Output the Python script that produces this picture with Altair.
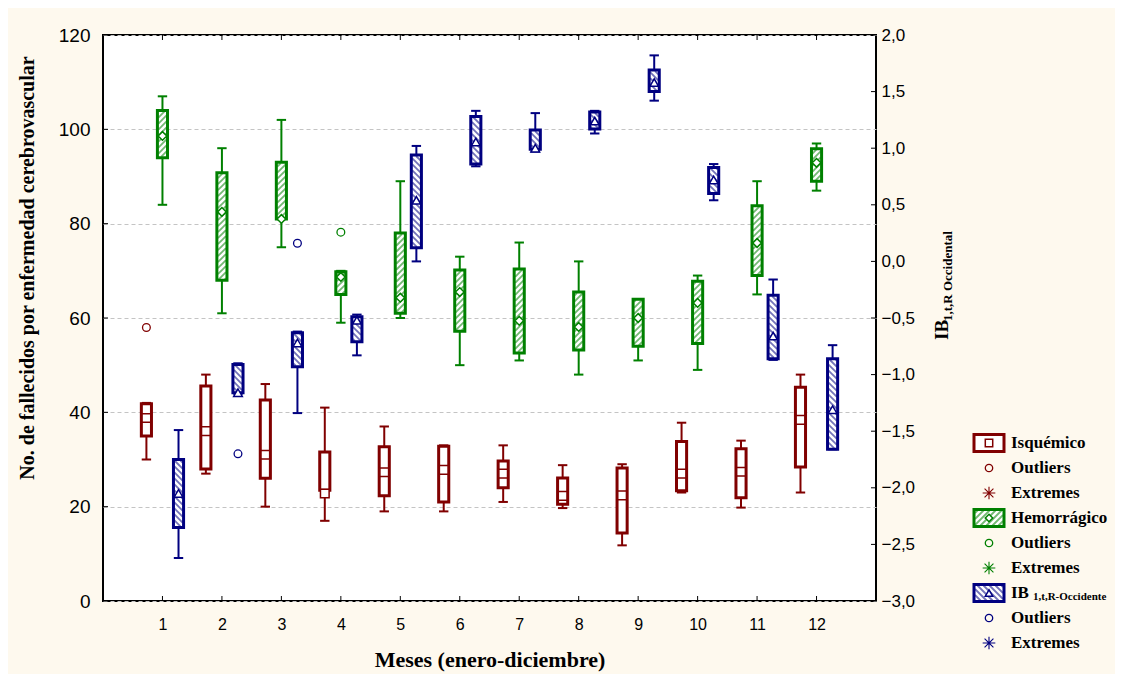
import altair as alt
import pandas as pd
import numpy as np

# ---------------- data ----------------
months = list(range(1, 13))

# Isquémico (left axis): whisker low, box low, marker, box high, whisker high
isq_wlo = [30, 27, 20, 17, 19, 19, 21, 19.7, 11.8, 23, 19.8, 23]
isq_q1 = [35, 28, 26, 23.5, 22.3, 21, 24, 20.5, 14.4, 23.4, 21.9, 28.4]
isq_mid = [38.8, 36, 31, 22.8, 27.3, 27.8, 27, 22.3, 22.4, 27, 27.4, 38.4]
isq_q3 = [41.8, 45.6, 42.6, 31.6, 32.7, 32.8, 29.7, 26.1, 28.2, 33.8, 32.3, 45.3]
isq_whi = [42, 48, 46, 41, 37, 33, 33, 28.8, 29, 37.8, 34, 48]

# Hemorrágico (left axis)
hem_wlo = [84, 61, 75, 59, 60, 50, 51, 48, 51, 49, 65, 87]
hem_q1 = [94, 68, 81, 65, 61, 57.2, 52.6, 53.2, 54, 54.6, 69, 89]
hem_mid = [98.6, 82.5, 81, 68.7, 64.3, 65.5, 59.4, 58.1, 60, 63.2, 75.9, 92.9]
hem_q3 = [104, 90.8, 93, 69.8, 78, 70.2, 70.4, 65.5, 64, 67.8, 83.8, 95.9]
hem_whi = [107, 96, 102, 70, 89, 73, 76, 72, 64, 69, 89, 97]

# IB 1,t,R-Occidente (right axis)
ib_wlo = [-2.62, -1.17, -1.34, -0.83, 0.0, 0.84, 0.97, 1.13, 1.42, 0.54, -0.87, -1.66]
ib_q1 = [-2.35, -1.16, -0.93, -0.71, 0.12, 0.86, 0.99, 1.17, 1.50, 0.60, -0.86, -1.66]
ib_mid = [-2.05, -1.16, -0.72, -0.52, 0.54, 1.055, 1.0, 1.24, 1.58, 0.72, -0.66, -1.31]
ib_q3 = [-1.75, -0.91, -0.63, -0.49, 0.94, 1.28, 1.16, 1.32, 1.69, 0.83, -0.30, -0.86]
ib_whi = [-1.49, -0.90, -0.62, -0.47, 1.02, 1.33, 1.31, 1.33, 1.82, 0.86, -0.16, -0.74]

# outliers
isq_out_month = [1]
isq_out_val = [58]
hem_out_month = [4]
hem_out_val = [78.2]
ib_out_month = [2, 3]
ib_out_val = [-1.70, 0.16]

left_ticks = [0, 20, 40, 60, 80, 100, 120]
right_ticks = [-3.0, -2.5, -2.0, -1.5, -1.0, -0.5, 0.0, 0.5, 1.0, 1.5, 2.0]

legend_labels = ["Isquémico", "Outliers", "Extremes",
                 "Hemorrágico", "Outliers", "Extremes",
                 "IB", "Outliers", "Extremes"]
legend_sub = "1,t,R-Occidente"

x_title = "Meses (enero-diciembre)"
y_title = "No. de fallecidos por enfermedad cerebrovascular"
r_title_main = "IB"
r_title_sub = "1,t,R Occidental"

# ---------------- layout / style ----------------
W, H = 773, 566
PAD = {"left": 95, "top": 27, "right": 239, "bottom": 73}
BG = "#FEF9EE"
RED, GREEN, BLUE = "#800000", "#008000", "#000080"
X_DOM = [0, 13]
YL_DOM = [0, 120]
YR_DOM = [-3, 2]
HW = 0.085      # half box width (months)
CAP = 0.079     # half cap width (months)
OFF = {"isq": -0.27, "hem": 0.0, "ib": 0.27}
SX = W / (X_DOM[1] - X_DOM[0])
SYL = H / (YL_DOM[1] - YL_DOM[0])
SYR = H / (YR_DOM[1] - YR_DOM[0])
HSTEP = 6.0

XS = alt.Scale(domain=X_DOM, nice=False, zero=False)
YLS = alt.Scale(domain=YL_DOM, nice=False, zero=False)
YRS = alt.Scale(domain=YR_DOM, nice=False, zero=False)

XAXIS = alt.Axis(values=months, tickSize=0, labelPadding=15, labelFontSize=16,
                 labelFont="Liberation Sans", labelColor="black", domain=False,
                 grid=False, title=None)
LAXIS = alt.Axis(values=left_ticks, tickSize=0, labelPadding=13, labelFontSize=19,
                 labelFont="Liberation Sans", labelColor="black", domain=False,
                 grid=True, gridDash=[4, 3], gridColor="#c4c4c4", gridWidth=1,
                 title=None)
RAXIS = alt.Axis(values=right_ticks, orient="right", tickSize=0, labelPadding=5,
                 labelFontSize=17, labelFont="Liberation Sans", labelColor="black",
                 domain=False, grid=False, title=None,
                 labelExpr="replace(format(datum.value, '.1f'), '.', ',')")


def hatch(xl, xr, yt, yb, direction, inset=1.0):
    """diagonal hatch segments inside a pixel rectangle (y down)"""
    xl, xr, yt, yb = xl + inset, xr - inset, yt + inset, yb - inset
    segs = []
    if xr <= xl or yb <= yt:
        return segs
    if direction == "up":  # '///'  x + y = k
        kmin, kmax = xl + yt, xr + yb
        k = np.ceil(kmin / HSTEP) * HSTEP
        while k < kmax:
            x0, x1 = max(xl, k - yb), min(xr, k - yt)
            if x1 - x0 > 0.4:
                segs.append((x0, k - x0, x1, k - x1))
            k += HSTEP
    else:  # '\\\'  y = x + k
        kmin, kmax = yt - xr, yb - xl
        k = np.ceil(kmin / HSTEP) * HSTEP
        while k < kmax:
            x0, x1 = max(xl, yt - k), min(xr, yb - k)
            if x1 - x0 > 0.4:
                segs.append((x0, x0 + k, x1, x1 + k))
            k += HSTEP
    return segs


def box_df(off, wlo, q1, mid, q3, whi):
    d = pd.DataFrame({"month": months, "wlo": wlo, "q1": q1, "mid": mid,
                      "q3": q3, "whi": whi})
    d["xc"] = d["month"] + off
    d["xl"] = d["xc"] - HW
    d["xr"] = d["xc"] + HW
    d["cl"] = d["xc"] - CAP
    d["cr"] = d["xc"] + CAP
    return d


def hatch_df(d, dom, sy, direction):
    rows = []
    for _, r in d.iterrows():
        xl, xr = (r["xl"] - X_DOM[0]) * SX, (r["xr"] - X_DOM[0]) * SX
        yt, yb = (dom[1] - r["q3"]) * sy, (dom[1] - r["q1"]) * sy
        for x0, y0, x1, y1 in hatch(xl, xr, yt, yb, direction):
            rows.append({"x0": X_DOM[0] + x0 / SX, "x1": X_DOM[0] + x1 / SX,
                         "y0": dom[1] - y0 / sy, "y1": dom[1] - y1 / sy})
    return pd.DataFrame(rows)


def series(d, hd, color, ys, yaxis, shape, out_m, out_v, off):
    base = alt.Chart(d)

    def X(f):
        return alt.X(f"{f}:Q", scale=XS, axis=XAXIS)

    def Y(f):
        return alt.Y(f"{f}:Q", scale=ys, axis=yaxis)

    layers = [
        base.mark_rule(color=color, strokeWidth=2).encode(x=X("xc"), y=Y("wlo"), y2="whi:Q"),
        base.mark_rule(color=color, strokeWidth=2).encode(x=X("cl"), x2="cr:Q", y=Y("whi")),
        base.mark_rule(color=color, strokeWidth=2).encode(x=X("cl"), x2="cr:Q", y=Y("wlo")),
        base.mark_rect(fill="white").encode(x=X("xl"), x2="xr:Q", y=Y("q1"), y2="q3:Q"),
    ]
    if hd is not None and len(hd):
        layers.append(alt.Chart(hd).mark_rule(color=color, strokeWidth=1.8, opacity=0.55)
                      .encode(x=X("x0"), x2="x1:Q", y=Y("y0"), y2="y1:Q"))
    layers += [
        base.mark_rect(fill="transparent", stroke=color, strokeWidth=3)
            .encode(x=X("xl"), x2="xr:Q", y=Y("q1"), y2="q3:Q"),
        base.mark_point(shape=shape, filled=True, fill="white", stroke=color,
                        strokeWidth=1.5, size=75, opacity=1)
            .encode(x=X("xc"), y=Y("mid")),
    ]
    od = pd.DataFrame({"m": out_m, "v": out_v})
    od["xc"] = od["m"] + off
    layers.append(alt.Chart(od).mark_point(shape="circle", filled=False, color=color,
                                           strokeWidth=1.3, size=60, opacity=1)
                  .encode(x=X("xc"), y=Y("v")))
    return layers


isq = box_df(OFF["isq"], isq_wlo, isq_q1, isq_mid, isq_q3, isq_whi)
hem = box_df(OFF["hem"], hem_wlo, hem_q1, hem_mid, hem_q3, hem_whi)
ib = box_df(OFF["ib"], ib_wlo, ib_q1, ib_mid, ib_q3, ib_whi)

hem_h = hatch_df(hem, YL_DOM, SYL, "up")
ib_h = hatch_df(ib, YR_DOM, SYR, "down")

left_layers = []
left_layers += series(isq, None, RED, YLS, LAXIS, "square", isq_out_month, isq_out_val, OFF["isq"])
left_layers += series(hem, hem_h, GREEN, YLS, LAXIS, "diamond", hem_out_month, hem_out_val, OFF["hem"])

# inward ticks
left_layers.append(alt.Chart(pd.DataFrame({"v": left_ticks})).mark_rule(color="black", strokeWidth=1)
                   .encode(y=alt.Y("v:Q", scale=YLS, axis=LAXIS), x=alt.value(0), x2=alt.value(5)))
mdf = pd.DataFrame({"m": months})
left_layers.append(alt.Chart(mdf).mark_rule(color="black", strokeWidth=1)
                   .encode(x=alt.X("m:Q", scale=XS, axis=XAXIS), y=alt.value(H), y2=alt.value(H - 5)))
left_layers.append(alt.Chart(mdf).mark_rule(color="black", strokeWidth=1)
                   .encode(x=alt.X("m:Q", scale=XS, axis=XAXIS), y=alt.value(0), y2=alt.value(5)))

# titles
one = pd.DataFrame({"a": [0]})
serif = "Liberation Serif"
left_layers.append(alt.Chart(one).mark_text(text=y_title, font=serif, fontWeight="bold", fontSize=20,
                                            angle=270, align="center", baseline="middle", color="black")
                   .encode(x=alt.value(-75), y=alt.value(233)))
left_layers.append(alt.Chart(one).mark_text(text=x_title, font=serif, fontWeight="bold", fontSize=22,
                                            align="center", baseline="middle", color="black")
                   .encode(x=alt.value(387), y=alt.value(625)))
left_layers.append(alt.Chart(one).mark_text(text=r_title_main, font=serif, fontWeight="bold", fontSize=19,
                                            angle=270, align="left", baseline="middle", color="black")
                   .encode(x=alt.value(839), y=alt.value(305)))
left_layers.append(alt.Chart(one).mark_text(text=r_title_sub, font=serif, fontWeight="bold", fontSize=13,
                                            angle=270, align="left", baseline="middle", color="black")
                   .encode(x=alt.value(845), y=alt.value(286)))

# ---------------- legend (pixel layout) ----------------
LX_SYM, LX_TXT, LY0, LDY = 886, 908, 408, 25
kinds = ["box", "out", "ext"] * 3
cols = [RED] * 3 + [GREEN] * 3 + [BLUE] * 3
shapes = ["square", "diamond", "triangle-up"]
leg = pd.DataFrame({"label": legend_labels, "kind": kinds, "col": cols})
leg["ty"] = [LY0 + LDY * i for i in range(len(leg))]
leg["tx"] = LX_TXT
leg["sx"] = LX_SYM
lbox = leg[leg["kind"] == "box"].copy()
lbox["bx0"] = LX_SYM - 15
lbox["bx1"] = LX_SYM + 15
lbox["by0"] = lbox["ty"] - 8.5
lbox["by1"] = lbox["ty"] + 8.5
lbox["shp"] = shapes
lhatch_rows = []
for (_, r), dirn in zip(lbox.iterrows(), [None, "up", "down"]):
    if dirn is None:
        continue
    for x0, y0, x1, y1 in hatch(r["bx0"], r["bx1"], r["by0"], r["by1"], dirn):
        lhatch_rows.append({"x0": x0, "y0": y0, "x1": x1, "y1": y1, "col": r["col"]})
lhatch = pd.DataFrame(lhatch_rows)

NS = dict(scale=None, axis=None)
left_layers.append(alt.Chart(lbox).mark_rect(fill="white").encode(
    x=alt.X("bx0:Q", **NS), x2="bx1:Q", y=alt.Y("by0:Q", **NS), y2="by1:Q"))
left_layers.append(alt.Chart(lhatch).mark_rule(strokeWidth=1.8, opacity=0.55).encode(
    x=alt.X("x0:Q", **NS), x2="x1:Q", y=alt.Y("y0:Q", **NS), y2="y1:Q",
    color=alt.Color("col:N", scale=None)))
left_layers.append(alt.Chart(lbox).mark_rect(fill="transparent", strokeWidth=3).encode(
    x=alt.X("bx0:Q", **NS), x2="bx1:Q", y=alt.Y("by0:Q", **NS), y2="by1:Q",
    stroke=alt.Stroke("col:N", scale=None)))
left_layers.append(alt.Chart(lbox).mark_point(filled=True, fill="white", strokeWidth=1.5, size=55,
                                              opacity=1).encode(
    x=alt.X("sx:Q", **NS), y=alt.Y("ty:Q", **NS), stroke=alt.Stroke("col:N", scale=None),
    shape=alt.Shape("shp:N", scale=None)))
left_layers.append(alt.Chart(leg[leg["kind"] == "out"]).mark_point(
    shape="circle", filled=False, strokeWidth=1.3, size=55, opacity=1).encode(
    x=alt.X("sx:Q", **NS), y=alt.Y("ty:Q", **NS), color=alt.Color("col:N", scale=None)))
AST = "M-1,0L1,0M0,-1L0,1M-0.7,-0.7L0.7,0.7M-0.7,0.7L0.7,-0.7"
left_layers.append(alt.Chart(leg[leg["kind"] == "ext"]).mark_point(
    shape=AST, filled=False, strokeWidth=1.1, size=160, opacity=1).encode(
    x=alt.X("sx:Q", **NS), y=alt.Y("ty:Q", **NS), color=alt.Color("col:N", scale=None)))
left_layers.append(alt.Chart(leg).mark_text(font=serif, fontWeight="bold", fontSize=17, align="left",
                                            baseline="middle", color="black").encode(
    x=alt.X("tx:Q", **NS), y=alt.Y("ty:Q", **NS), text="label:N"))
sub = pd.DataFrame({"t": [legend_sub], "x": [LX_TXT + 22], "y": [LY0 + LDY * 6 + 4]})
left_layers.append(alt.Chart(sub).mark_text(font=serif, fontWeight="bold", fontSize=11, align="left",
                                            baseline="middle", color="black").encode(
    x=alt.X("x:Q", **NS), y=alt.Y("y:Q", **NS), text="t:N"))

# ---------------- right axis group ----------------
right_layers = series(ib, ib_h, BLUE, YRS, RAXIS, "triangle-up", ib_out_month, ib_out_val, OFF["ib"])
right_layers.append(alt.Chart(pd.DataFrame({"v": right_ticks})).mark_rule(color="black", strokeWidth=1)
                    .encode(y=alt.Y("v:Q", scale=YRS, axis=RAXIS), x=alt.value(W - 5), x2=alt.value(W)))

left = alt.layer(*left_layers)
right = alt.layer(*right_layers)

chart = (
    alt.layer(left, right)
    .resolve_scale(y="independent")
    .properties(width=W, height=H, autosize=alt.AutoSizeParams(type="none"),
                padding=PAD, background=BG)
    .configure_view(fill="white", stroke="black", strokeWidth=2)
)

chart.save("out.html", embed_options={"renderer": "svg", "actions": False})
